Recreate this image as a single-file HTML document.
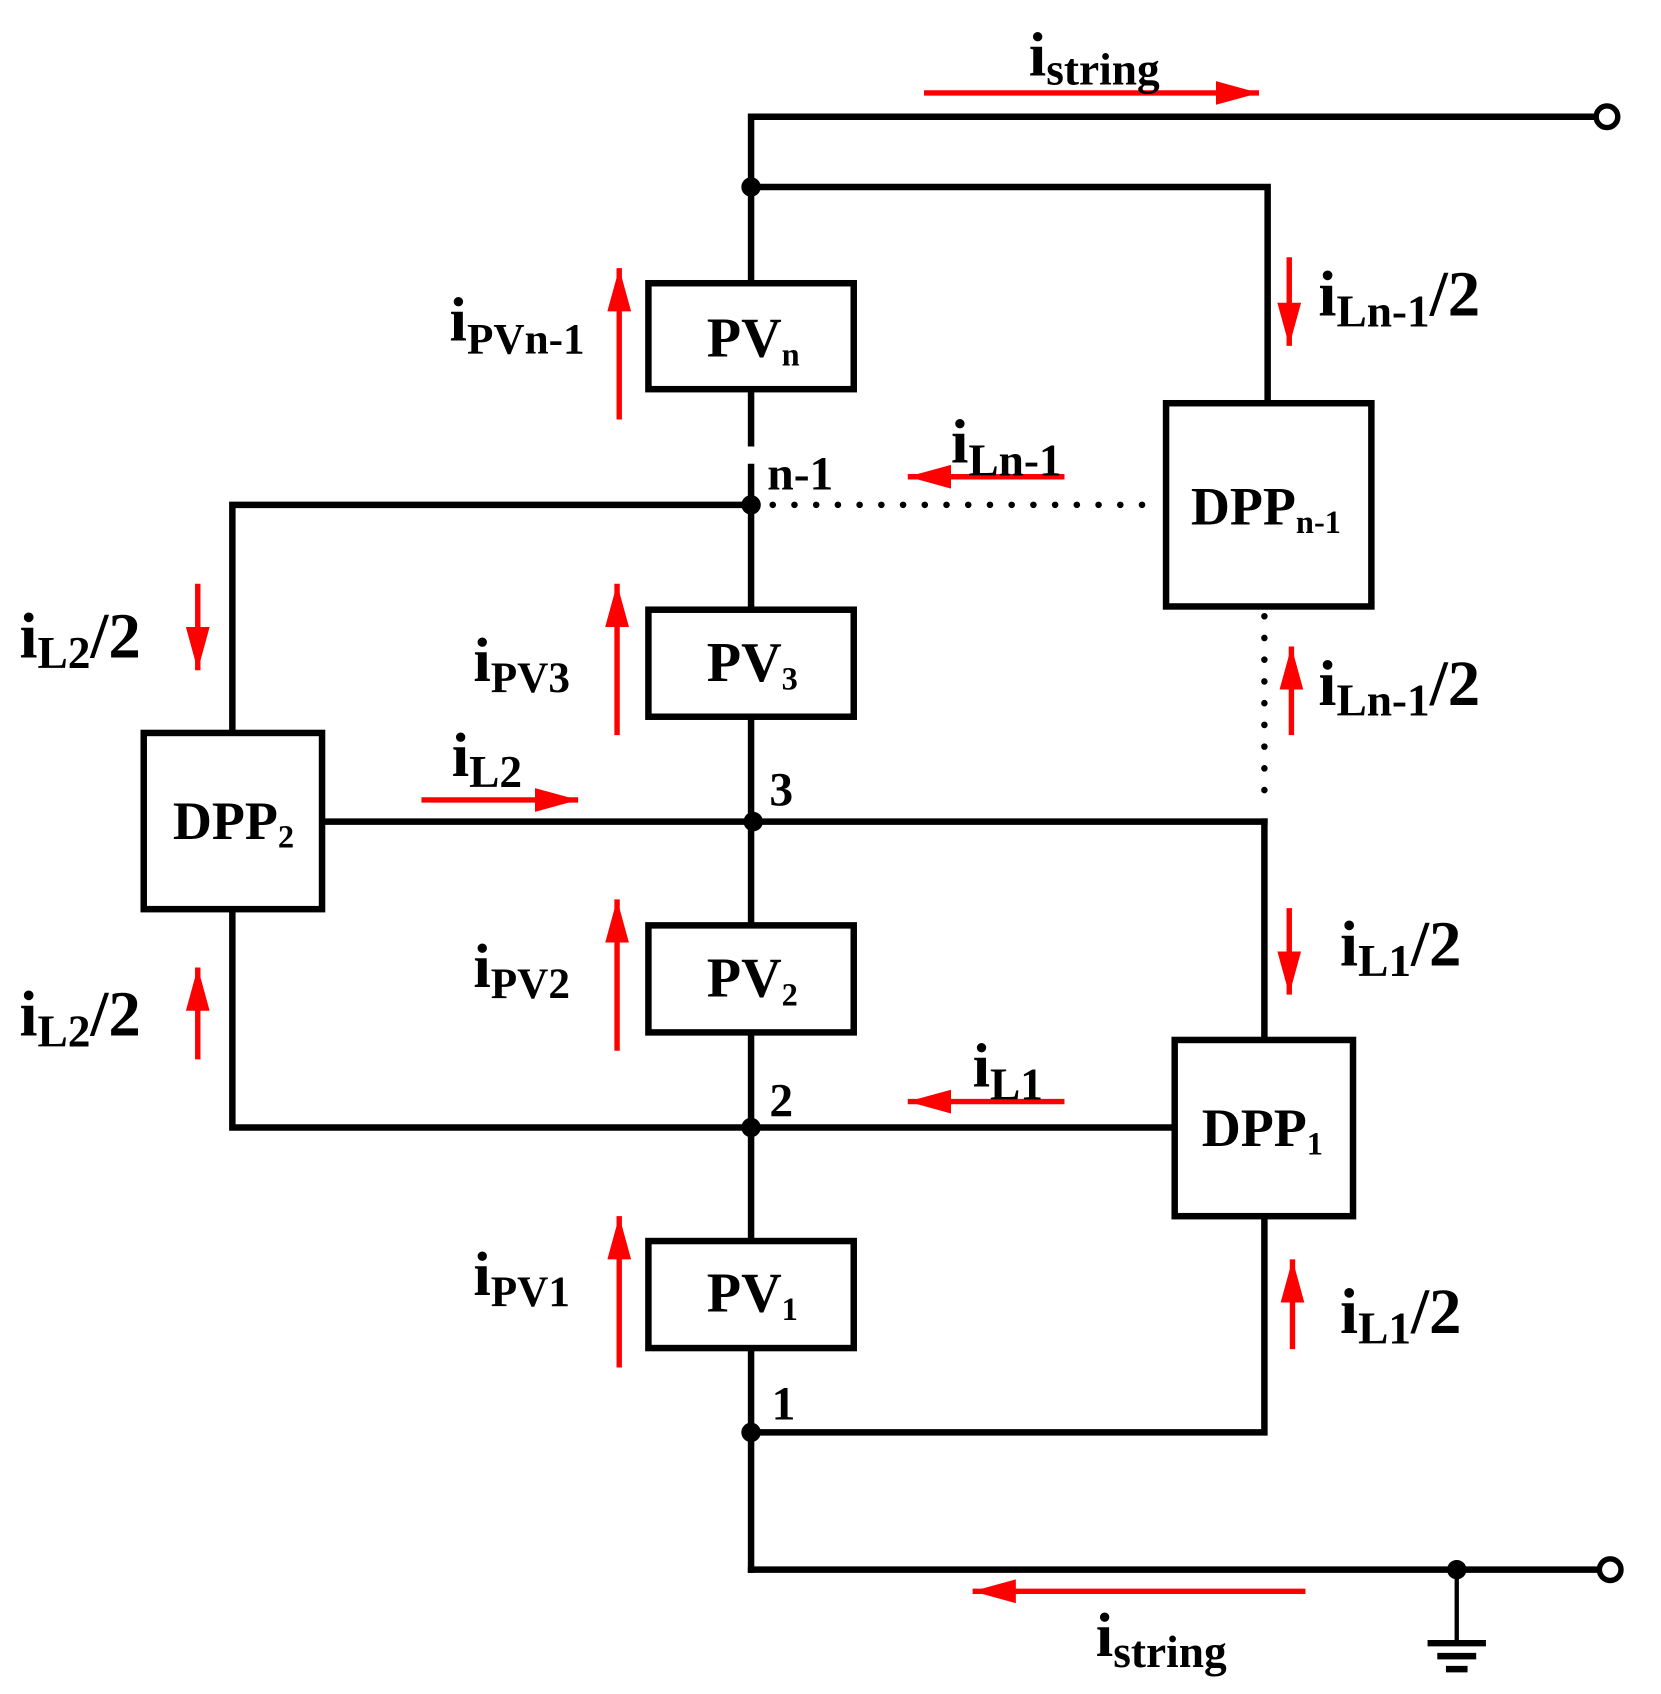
<!DOCTYPE html>
<html><head><meta charset="utf-8"><style>html,body{margin:0;padding:0;background:#fff}svg{display:block}</style></head>
<body>
<svg width="1661" height="1694" viewBox="0 0 1537 1567" preserveAspectRatio="none" xmlns="http://www.w3.org/2000/svg" font-family="Liberation Serif, serif" font-weight="bold">
<defs>
<marker id="ah" markerWidth="8" markerHeight="5" refX="8" refY="2.2" orient="auto" markerUnits="strokeWidth"><path d="M0,0 L8,2.2 L0,4.4 Z" fill="#f00"/></marker>
</defs>
<g stroke="#000" stroke-width="6" fill="none" stroke-linecap="square">
<polyline points="695,410 695,108 1477,108"/>
<polyline points="695,173 1173,173 1173,373"/>
<line x1="695" y1="432" x2="695" y2="1452"/>
<polyline points="695,1452 1480,1452"/>
<polyline points="695,467 215,467 215,678"/>
<line x1="298" y1="760" x2="1170" y2="760"/>
<line x1="1170" y1="760" x2="1170" y2="962"/>
<polyline points="215,841 215,1043 1087,1043"/>
<polyline points="695,1325 1170,1325 1170,1125"/>
<rect x="600" y="262" width="190" height="98" fill="#fff"/>
<rect x="600" y="564" width="190" height="99" fill="#fff"/>
<rect x="600" y="856" width="190" height="99" fill="#fff"/>
<rect x="600" y="1148" width="190" height="99" fill="#fff"/>
<rect x="1079" y="373" width="190" height="188" fill="#fff"/>
<rect x="133" y="678" width="165" height="163" fill="#fff"/>
<rect x="1087" y="962" width="165" height="163" fill="#fff"/>
<line x1="1348" y1="1452" x2="1348" y2="1518" stroke-width="4"/>
<line x1="1324" y1="1520" x2="1372" y2="1520" stroke-width="6"/>
<line x1="1333" y1="1532" x2="1363" y2="1532" stroke-width="6"/>
<line x1="1341" y1="1544" x2="1355" y2="1544" stroke-width="6"/>
</g>
<g stroke="#000" stroke-width="6" stroke-dasharray="0.1 20" stroke-linecap="round" fill="none">
<line x1="715" y1="467" x2="1062" y2="467"/>
<line x1="1170" y1="570" x2="1170" y2="742"/>
</g>
<g fill="#000">
<circle cx="695" cy="173" r="9"/><circle cx="695" cy="467" r="9"/><circle cx="697" cy="760" r="9"/>
<circle cx="695" cy="1043" r="9"/><circle cx="695" cy="1325" r="9"/><circle cx="1348" cy="1452" r="9"/>
</g>
<circle cx="1487" cy="108" r="10" fill="#fff" stroke="#000" stroke-width="5"/>
<circle cx="1490" cy="1452" r="10" fill="#fff" stroke="#000" stroke-width="5"/>
<g stroke="#f00" stroke-width="5" marker-end="url(#ah)">
<line x1="855" y1="86" x2="1165" y2="86"/>
<line x1="573" y1="388" x2="573" y2="248"/>
<line x1="1193" y1="238" x2="1193" y2="320"/>
<line x1="985" y1="441" x2="840" y2="441"/>
<line x1="571" y1="680" x2="571" y2="540"/>
<line x1="183" y1="540" x2="183" y2="620"/>
<line x1="1195" y1="680" x2="1195" y2="598"/>
<line x1="390" y1="740" x2="535" y2="740"/>
<line x1="183" y1="980" x2="183" y2="895"/>
<line x1="571" y1="972" x2="571" y2="832"/>
<line x1="1193" y1="840" x2="1193" y2="920"/>
<line x1="985" y1="1019" x2="840" y2="1019"/>
<line x1="573" y1="1265" x2="573" y2="1125"/>
<line x1="1196" y1="1248" x2="1196" y2="1165"/>
<line x1="1208" y1="1472" x2="900" y2="1472"/>
</g>
<g fill="#000">
<text x="952" y="70" font-size="58">i<tspan font-size="42" dy="8">string</tspan></text>
<text x="416" y="315" font-size="58">i<tspan font-size="40" dy="12">PVn-1</tspan></text>
<text x="654" y="330" font-size="52">PV<tspan font-size="30" dy="8">n</tspan></text>
<text x="1220" y="292" font-size="60">i<tspan font-size="42" dy="10">Ln-1</tspan><tspan dy="-10">/2</tspan></text>
<text x="710" y="453" font-size="44">n-1</text>
<text x="880" y="428" font-size="58">i<tspan font-size="42" dy="12">Ln-1</tspan></text>
<text x="1102" y="485" font-size="50">DPP<tspan font-size="30" dy="8">n-1</tspan></text>
<text x="18" y="608" font-size="60">i<tspan font-size="42" dy="10">L2</tspan><tspan dy="-10">/2</tspan></text>
<text x="438" y="630" font-size="58">i<tspan font-size="40" dy="10">PV3</tspan></text>
<text x="654" y="630" font-size="52">PV<tspan font-size="30" dy="8">3</tspan></text>
<text x="1220" y="652" font-size="60">i<tspan font-size="42" dy="10">Ln-1</tspan><tspan dy="-10">/2</tspan></text>
<text x="418" y="718" font-size="58">i<tspan font-size="42" dy="10">L2</tspan></text>
<text x="712" y="745" font-size="44">3</text>
<text x="160" y="776" font-size="50">DPP<tspan font-size="30" dy="8">2</tspan></text>
<text x="1240" y="893" font-size="60">i<tspan font-size="42" dy="10">L1</tspan><tspan dy="-10">/2</tspan></text>
<text x="438" y="913" font-size="58">i<tspan font-size="40" dy="10">PV2</tspan></text>
<text x="654" y="922" font-size="52">PV<tspan font-size="30" dy="8">2</tspan></text>
<text x="18" y="958" font-size="60">i<tspan font-size="42" dy="10">L2</tspan><tspan dy="-10">/2</tspan></text>
<text x="900" y="1005" font-size="58">i<tspan font-size="42" dy="12">L1</tspan></text>
<text x="712" y="1033" font-size="44">2</text>
<text x="1112" y="1060" font-size="50">DPP<tspan font-size="30" dy="8">1</tspan></text>
<text x="438" y="1198" font-size="58">i<tspan font-size="40" dy="10">PV1</tspan></text>
<text x="654" y="1213" font-size="52">PV<tspan font-size="30" dy="8">1</tspan></text>
<text x="1240" y="1233" font-size="60">i<tspan font-size="42" dy="10">L1</tspan><tspan dy="-10">/2</tspan></text>
<text x="714" y="1313" font-size="44">1</text>
<text x="1014" y="1532" font-size="58">i<tspan font-size="42" dy="10">string</tspan></text>
</g>
</svg>
</body></html>
